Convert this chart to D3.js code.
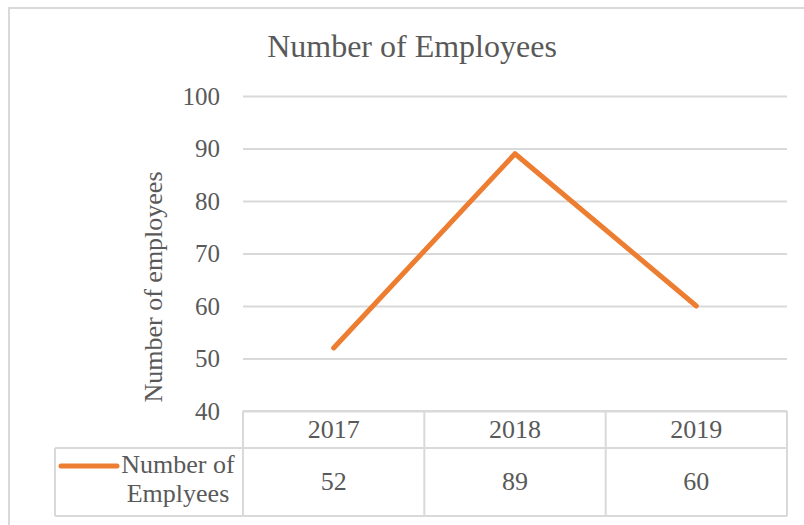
<!DOCTYPE html>
<html>
<head>
<meta charset="utf-8">
<script src="https://cdn.jsdelivr.net/npm/d3@7"></script>
<style>
  body { margin: 0; background: #fff; }
  svg text { font-family: "Liberation Serif", Tinos, "Times New Roman", Times, serif !important; }
</style>
</head>
<body>
<div id="chart"></div>
<script>
const years = ["2017", "2018", "2019"];
const employees = [52, 89, 60];
const yTicks = [40, 50, 60, 70, 80, 90, 100];
const seriesName = ["Number of", "Emplyees"];

const W = 804, H = 525;
const margin = { top: 96, right: 17, bottom: 114, left: 243 };
const width = W - margin.left - margin.right,
    height = H - margin.top - margin.bottom;
const textColor = "#595959", gridColor = "#d9d9d9", orange = "#ED7D31";

const svg = d3.select("#chart").append("svg")
    .attr("width", W)
    .attr("height", H);

// outer chart frame
svg.append("rect")
    .attr("x", 9).attr("y", 8)
    .attr("width", W + 20).attr("height", H + 20)
    .attr("fill", "none")
    .attr("stroke", gridColor)
    .attr("stroke-width", 2);

svg.append("text")
    .attr("x", 412).attr("y", 57)
    .attr("text-anchor", "middle")
    .attr("fill", textColor)
    .style("font-size", "32px")
    .text("Number of Employees");

const g = svg.append("g")
    .attr("transform", "translate(" + margin.left + "," + margin.top + ")");

const xScale = d3.scaleBand().domain(years).range([0, width]);
const yScale = d3.scaleLinear().domain([40, 100]).range([height, 0]);

// gridlines + y labels
const yAxis = d3.axisLeft(yScale)
    .tickValues(yTicks)
    .tickSize(-width)
    .tickPadding(23);

g.append("g")
    .call(yAxis)
    .call(a => a.select(".domain").remove())
    .call(a => a.selectAll(".tick line").attr("stroke", gridColor).attr("stroke-width", 2))
    .call(a => a.selectAll(".tick text")
        .attr("fill", textColor)
        .style("font-size", "25px"));

svg.append("text")
    .attr("transform", "translate(162,287) rotate(-90)")
    .attr("text-anchor", "middle")
    .attr("fill", textColor)
    .style("font-size", "26px")
    .text("Number of employees");

// line
const line = d3.line()
    .x((d, i) => xScale(years[i]) + xScale.bandwidth() / 2)
    .y(d => yScale(d));

g.append("path")
    .datum(employees)
    .attr("d", line)
    .attr("fill", "none")
    .attr("stroke", orange)
    .attr("stroke-width", 5)
    .attr("stroke-linecap", "round")
    .attr("stroke-linejoin", "round");

// data table under the plot
const rowH1 = 37, rowH2 = 68;
const tbl = g.append("g").attr("transform", "translate(0," + height + ")");
const legendX = 55 - margin.left;

tbl.selectAll(".col")
    .data(years)
    .enter().append("line")
    .attr("x1", d => xScale(d)).attr("x2", d => xScale(d))
    .attr("y1", 0).attr("y2", rowH1 + rowH2)
    .attr("stroke", gridColor).attr("stroke-width", 2);

tbl.append("line")
    .attr("x1", width).attr("x2", width)
    .attr("y1", 0).attr("y2", rowH1 + rowH2)
    .attr("stroke", gridColor).attr("stroke-width", 2);

tbl.append("line")
    .attr("x1", 0).attr("x2", width).attr("y1", 0).attr("y2", 0)
    .attr("stroke", gridColor).attr("stroke-width", 2);

[rowH1, rowH1 + rowH2].forEach(y => {
    tbl.append("line")
        .attr("x1", legendX).attr("x2", width)
        .attr("y1", y).attr("y2", y)
        .attr("stroke", gridColor).attr("stroke-width", 2);
});

tbl.append("line")
    .attr("x1", legendX).attr("x2", legendX)
    .attr("y1", rowH1).attr("y2", rowH1 + rowH2)
    .attr("stroke", gridColor).attr("stroke-width", 2);

tbl.selectAll(".yr")
    .data(years)
    .enter().append("text")
    .attr("x", d => xScale(d) + xScale.bandwidth() / 2)
    .attr("y", 27)
    .attr("text-anchor", "middle")
    .attr("fill", textColor)
    .style("font-size", "26px")
    .text(d => d);

tbl.selectAll(".val")
    .data(employees)
    .enter().append("text")
    .attr("x", (d, i) => xScale(years[i]) + xScale.bandwidth() / 2)
    .attr("y", rowH1 + 42)
    .attr("text-anchor", "middle")
    .attr("fill", textColor)
    .style("font-size", "26px")
    .text(d => d);

// legend key
tbl.append("line")
    .attr("x1", 61 - margin.left).attr("x2", 117 - margin.left)
    .attr("y1", 55).attr("y2", 55)
    .attr("stroke", orange).attr("stroke-width", 5)
    .attr("stroke-linecap", "round");

tbl.selectAll(".leg")
    .data(seriesName)
    .enter().append("text")
    .attr("x", 178 - margin.left)
    .attr("y", (d, i) => 62 + i * 29)
    .attr("text-anchor", "middle")
    .attr("fill", textColor)
    .style("font-size", "26px")
    .text(d => d);
</script>
</body>
</html>
